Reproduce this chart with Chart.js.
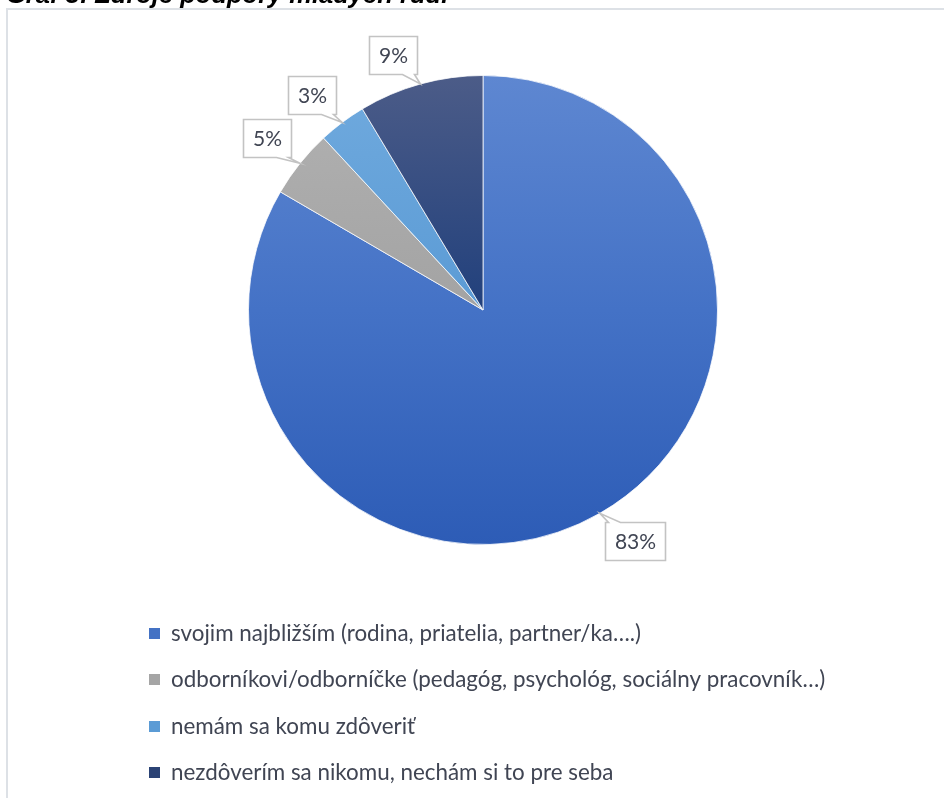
<!DOCTYPE html>
<html>
<head>
<meta charset="utf-8">
<script src="https://cdn.jsdelivr.net/npm/chart.js@4.4.1/dist/chart.umd.min.js"></script>
<style>
    html, body { margin: 0; padding: 0; background: #fff; overflow: hidden; }
    #wrap { position: relative; width: 944px; height: 798px; }
    #pie { position: absolute; left: 0; top: 0; }
    #title {
        position: absolute; left: 6px; top: -18px;
        font: italic bold 25.5px "Liberation Sans", Arial, sans-serif;
        line-height: 25px; color: #000; white-space: nowrap;
    }
</style>
</head>
<body>
<div id="wrap">
    <canvas id="pie" width="944" height="798"></canvas>
    <div id="title">Graf 3: Zdroje podpory mladých ľudí</div>
</div>
<script>
// --- DATA ---
const categories = [
    'svojim najbližším (rodina, priatelia, partner/ka….)',
    'odborníkovi/odborníčke (pedagóg, psychológ, sociálny pracovník…)',
    'nemám sa komu zdôveriť',
    'nezdôverím sa nikomu, nechám si to pre seba'
];
const shares = [83.4, 4.7, 3.3, 8.6];
const shareLabels = ['83%', '5%', '3%', '9%'];

// gradient stops top -> middle -> bottom of the pie
const sliceGradients = [
    ['#5e87d1', '#4472c6', '#2d5cb6'],
    ['#b2b2b2', '#a3a3a3', '#959595'],
    ['#70aade', '#5b9bd5', '#4a8bcb'],
    ['#4c5c88', '#21407c', '#14336d']
];
const swatchColors = ['#4472c4', '#a5a5a5', '#5b9bd5', '#2b4375'];
const textColor = '#404553';
const calloutFont = '21px Lato, "Open Sans", sans-serif';
const legendFont = '22.4px Lato, "Open Sans", sans-serif';

// --- PLUGINS ---
const framePlugin = {
    id: 'frame',
    beforeDraw(chart) {
        const ctx = chart.ctx;
        ctx.save();
        ctx.strokeStyle = '#dde1e6';
        ctx.lineWidth = 2;
        ctx.beginPath();
        ctx.moveTo(7, chart.height);
        ctx.lineTo(7, 9);
        ctx.lineTo(chart.width, 9);
        ctx.stroke();
        ctx.restore();
    }
};

const calloutPlugin = {
    id: 'callouts',
    afterDatasetsDraw(chart) {
        const ctx = chart.ctx;
        const meta = chart.getDatasetMeta(0);
        ctx.save();
        ctx.font = calloutFont;
        ctx.textAlign = 'center';
        ctx.textBaseline = 'middle';
        meta.data.forEach((arc, i) => {
            const p = arc.getProps(['x', 'y', 'startAngle', 'endAngle', 'outerRadius'], true);
            const mid = (p.startAngle + p.endAngle) / 2;
            const dx = Math.cos(mid), dy = Math.sin(mid);
            const tipX = p.x + dx * p.outerRadius;
            const tipY = p.y + dy * p.outerRadius;
            const text = shareLabels[i];
            const w = Math.round(ctx.measureText(text).width + 19);
            const h = 38;
            const cx = tipX + Math.sign(dx) * w / 2 + dx * 11;
            const cy = tipY + Math.sign(dy) * h / 2 + dy * 10;
            const l = Math.round(cx - w / 2) + 0.5, t = Math.round(cy - h / 2) + 0.5;
            const r = l + w, b = t + h;
            const b1 = tipX > cx ? r - 15 : l + 3;
            const b2 = b1 + 12;

            ctx.beginPath();
            ctx.moveTo(l, t);
            if (tipY < t) { ctx.lineTo(b1, t); ctx.lineTo(tipX, tipY); ctx.lineTo(b2, t); }
            ctx.lineTo(r, t);
            ctx.lineTo(r, b);
            if (tipY > b) { ctx.lineTo(b2, b); ctx.lineTo(tipX, tipY); ctx.lineTo(b1, b); }
            ctx.lineTo(l, b);
            ctx.closePath();
            ctx.fillStyle = '#ffffff';
            ctx.fill();
            ctx.strokeStyle = '#c3c3c3';
            ctx.lineWidth = 1.6;
            ctx.stroke();

            ctx.fillStyle = textColor;
            ctx.fillText(text, (l + r) / 2, (t + b) / 2 + 1);
        });
        ctx.restore();
    }
};

const legendRowsPlugin = {
    id: 'legendRows',
    afterDraw(chart) {
        const ctx = chart.ctx;
        const top = chart.chartArea.bottom + 88;
        ctx.save();
        ctx.font = legendFont;
        ctx.textBaseline = 'middle';
        ctx.textAlign = 'left';
        categories.forEach((label, i) => {
            const y = Math.round(top + i * 46.3);
            ctx.fillStyle = swatchColors[i];
            ctx.fillRect(149, y - 5, 11, 11);
            ctx.fillStyle = textColor;
            ctx.fillText(label, 171, y + 1);
        });
        ctx.restore();
    }
};

function sliceFill(context) {
    const chart = context.chart;
    const area = chart.chartArea;
    if (!area) return swatchColors[context.dataIndex];
    const stops = sliceGradients[context.dataIndex];
    const g = chart.ctx.createLinearGradient(0, area.top, 0, area.bottom);
    g.addColorStop(0, stops[0]);
    g.addColorStop(0.5, stops[1]);
    g.addColorStop(1, stops[2]);
    return g;
}

// --- CHART ---
new Chart(document.getElementById('pie'), {
    type: 'pie',
    data: {
        labels: categories,
        datasets: [{
            data: shares,
            backgroundColor: sliceFill,
            borderColor: 'rgba(255,255,255,0.75)',
            borderWidth: 1
        }]
    },
    options: {
        responsive: false,
        animation: false,
        layout: { padding: { top: 75, bottom: 253, left: 22, right: 0 } },
        plugins: {
            legend: { display: false },
            tooltip: { enabled: false }
        }
    },
    plugins: [framePlugin, calloutPlugin, legendRowsPlugin]
});
</script>
</body>
</html>
